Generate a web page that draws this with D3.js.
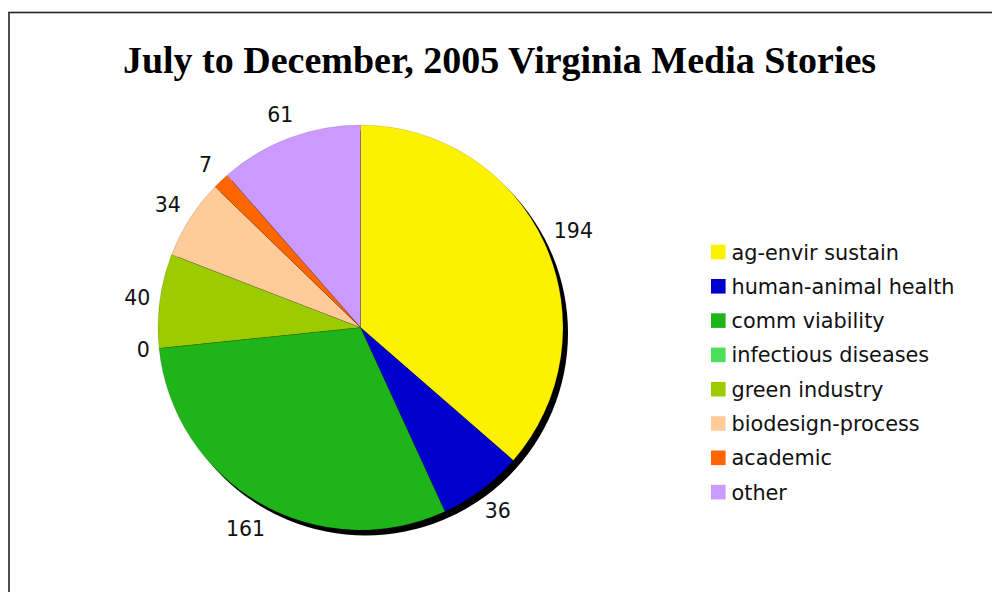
<!DOCTYPE html>
<html>
<head>
<meta charset="utf-8">
<script src="https://cdn.jsdelivr.net/npm/d3@7"></script>
<style>
  html, body { margin: 0; padding: 0; background: #fff; }
  svg { display: block; }
</style>
</head>
<body>
<svg id="chart" width="992" height="592"></svg>
<script>
// Story counts by topic, July–December 2005
const categories = [
  "ag-envir sustain",
  "human-animal health",
  "comm viability",
  "infectious diseases",
  "green industry",
  "biodesign-process",
  "academic",
  "other"
];
const stories = [194, 36, 161, 0, 40, 34, 7, 61];
const sliceColors = [
  "#FCF200", "#0000CC", "#1EB41A", "#4CE05A",
  "#9CCC00", "#FFCC99", "#FF6600", "#CC99FF"
];
const titleText = "July to December, 2005 Virginia Media Stories";

const svg = d3.select("#chart");
const W = 992, H = 592;

// outer frame
svg.append("rect")
  .attr("x", 9).attr("y", 12.5)
  .attr("width", W + 20).attr("height", H + 20)
  .attr("fill", "none")
  .attr("stroke", "#222")
  .attr("stroke-width", 1.6);

// title
svg.append("text")
  .attr("x", 499.5).attr("y", 73)
  .attr("text-anchor", "middle")
  .attr("font-family", "'Liberation Serif', 'Times New Roman', serif")
  .attr("font-weight", "bold")
  .attr("font-size", 38)
  .attr("fill", "#000")
  .text(titleText);

// pie geometry
const cx = 360.5, cy = 327.5, R = 202.5;
const data = categories.map((c, i) => ({ name: c, value: stories[i], color: sliceColors[i] }));
const pie = d3.pie().sort(null).value(d => d.value).startAngle(0).endAngle(2 * Math.PI);
const arcs = pie(data);
const arc = d3.arc().innerRadius(0).outerRadius(R);

const g = svg.append("g").attr("transform", `translate(${cx},${cy})`);

// drop shadow behind the pie
g.append("circle")
  .attr("cx", 5).attr("cy", 5.5).attr("r", R)
  .attr("fill", "#000");

g.selectAll("path.slice")
  .data(arcs.filter(a => a.value > 0))
  .join("path")
  .attr("class", "slice")
  .attr("d", arc)
  .attr("fill", d => d.data.color)
  .attr("stroke", "#000")
  .attr("stroke-opacity", 0.25)
  .attr("stroke-width", 0.5);

// value labels placed just outside the rim, offset by the text box size
const labelFont = "'DejaVu Sans', Verdana, sans-serif";
const labels = g.selectAll("text.val")
  .data(arcs)
  .join("text")
  .attr("class", "val")
  .attr("font-family", labelFont)
  .attr("font-size", 20.5)
  .attr("fill", "#111")
  .attr("text-anchor", "middle")
  .attr("dy", "0.36em")
  .text(d => d.data.value);

labels.each(function(d) {
  const a = (d.startAngle + d.endAngle) / 2;
  const s = Math.sin(a), c = -Math.cos(a);
  const hw = this.getComputedTextLength() / 2;
  const r = R + 8 + hw * Math.abs(s) + 13.5 * Math.abs(c);
  d3.select(this).attr("x", r * s).attr("y", r * c);
});

// legend
const legend = svg.append("g").attr("transform", "translate(711,252)");
const rowH = 34.3;
const rows = legend.selectAll("g.row")
  .data(data)
  .join("g")
  .attr("class", "row")
  .attr("transform", (d, i) => `translate(0,${i * rowH})`);
rows.append("rect")
  .attr("x", 0).attr("y", -7.3)
  .attr("width", 14.6).attr("height", 14.6)
  .attr("fill", d => d.color);
rows.append("text")
  .attr("x", 20.5).attr("dy", "0.36em")
  .attr("font-family", labelFont)
  .attr("font-size", 20.8)
  .attr("fill", "#111")
  .text(d => d.name);
</script>
</body>
</html>
